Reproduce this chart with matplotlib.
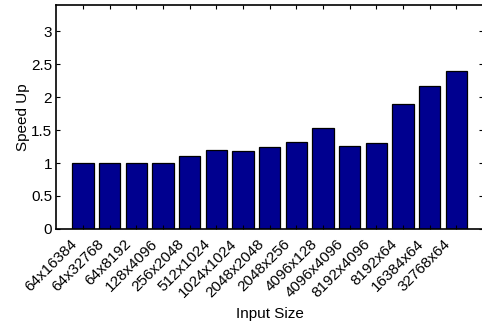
import numpy as np
import matplotlib
matplotlib.use('Agg')
import matplotlib.pyplot as plt
from matplotlib.transforms import ScaledTranslation

plt.rcParams['font.family'] = ['Liberation Sans', 'DejaVu Sans']

# Speed up per input size
sizes = ['64x16384', '64x32768', '64x8192', '128x4096', '256x2048', '512x1024',
         '1024x1024', '2048x2048', '2048x256', '4096x128', '4096x4096',
         '8192x4096', '8192x64', '16384x64', '32768x64']
speedup = [1.0, 1.0, 1.0, 1.0, 1.11, 1.2, 1.19, 1.25, 1.315, 1.53, 1.255,
           1.30, 1.89, 2.175, 2.39]

fig = plt.figure(figsize=(4.82, 3.27), dpi=100)
ax = fig.add_axes([0.117, 0.30, 0.885, 0.685])

positions = np.arange(1, len(sizes) + 1)
ax.bar(positions, speedup, width=0.8, color='#00008f', edgecolor='black', linewidth=0.9)

ax.set_xlim(0, 16)
ax.set_ylim(0, 3.4)
ax.set_yticks([0, 0.5, 1, 1.5, 2, 2.5, 3])
ax.set_yticklabels(['0', '0.5', '1', '1.5', '2', '2.5', '3'])
ax.set_xticks(positions)
ax.set_xticklabels(sizes, rotation=45, ha='right', va='center', rotation_mode='anchor')

ax.tick_params(direction='in', top=True, right=True, length=3, width=0.8,
               labelsize=11, pad=3)
ax.tick_params(axis='x', pad=9)
# nudge the rotated labels left so they end just before the tick
shift = ScaledTranslation(-8 / 100, 0, fig.dpi_scale_trans)
for lbl in ax.get_xticklabels():
    lbl.set_transform(lbl.get_transform() + shift)

for s in ax.spines.values():
    s.set_linewidth(1.2)

ax.set_ylabel('Speed Up', fontsize=11, labelpad=1)
ax.set_xlabel('Input Size', fontsize=11, labelpad=5)

fig.savefig('out.png', dpi=100)
